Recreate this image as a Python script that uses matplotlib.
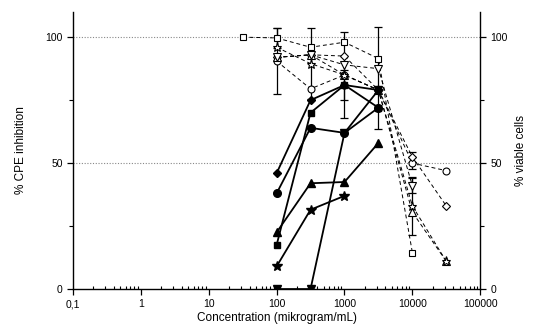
import matplotlib

matplotlib.use("Agg")
import matplotlib.pyplot as plt
import numpy as np
from matplotlib.ticker import FixedLocator, FuncFormatter, LogLocator, NullFormatter

plt.rcParams["font.family"] = ["Liberation Sans", "DejaVu Sans"]

# concentrations (mikrogram/mL), half-log dilution steps
conc = [100, 316, 1000, 3160]
conc_star = [100, 316, 1000]
conc_v = [100, 316, 1000, 3160, 10000, 31600]
conc_v_square = [31.6, 100, 316, 1000, 3160, 10000]
conc_v_tri_down = [100, 316, 1000, 3160, 10000]

# % CPE inhibition (filled markers, solid lines)
cpe_diamond = [46, 75, 81, 79]
cpe_circle = [38, 64, 62, 72]
cpe_square = [17.5, 70, 81, 72]
cpe_triangle = [22.5, 42, 42.5, 58]
cpe_star = [9, 31.5, 37]
cpe_tri_down = [0, 0, 62, 79]

# % viable cells (open markers, dashed lines)
via_square = [100, 99.7, 96, 98, 91.5, 14.5]
via_circle = [90.5, 79.5, 85, 79, 50, 47]
via_diamond = [92, 93, 92.5, 79, 52.5, 33]
via_star = [96, 89.5, 85, 79, 33, 11]
via_triangle = [92, 93, 85, 79, 30.5, 11]
via_tri_down = [92, 93, 89, 87.5, 41]

# error bars (lower, upper); 0 = none drawn
via_circle_err = ([13, 0, 17, 0, 2.5, 0], [13, 0, 17, 0, 2.5, 0])
via_star_err = ([0, 14, 0, 0, 0, 0], [0, 14, 0, 0, 0, 0])
via_diamond_err = ([0, 0, 0, 0, 2, 0], [0, 0, 0, 0, 2, 0])
via_triangle_err = ([0, 0, 0, 0, 9, 0], [0, 0, 0, 0, 14, 0])
via_tri_down_err = ([0, 0, 0, 24, 3], [0, 0, 0, 16.5, 3])
via_square_err = ([0, 4, 0, 0, 0, 0], [0, 4, 0, 0, 0, 0])
cpe_square_err = ([0, 0, 6, 0], [0, 0, 6, 0])

FILLED_KW = dict(color="black", lw=1.3, mfc="black", mec="black", zorder=5)
OPEN_KW = dict(color="black", lw=0.7, ls=(0, (4, 3)), mfc="white", mec="black",
               mew=0.8, zorder=4)


def draw_err(ax, x, y, err):
    lo, hi = err
    idx = [i for i in range(len(y)) if lo[i] + hi[i] > 0]
    if not idx:
        return
    ax.errorbar([x[i] for i in idx], [y[i] for i in idx],
                yerr=[[lo[i] for i in idx], [hi[i] for i in idx]],
                fmt="none", ecolor="black", elinewidth=0.9, capsize=3,
                capthick=0.9, zorder=3)


fig = plt.figure(figsize=(5.33, 3.33), dpi=100)
ax = fig.add_axes([0.137, 0.132, 0.764, 0.832])

ax.axhline(50, color="#888888", lw=0.8, ls=(0, (1, 1.5)), zorder=1)
ax.axhline(100, color="#888888", lw=0.8, ls=(0, (1, 1.5)), zorder=1)

# viability (open, dashed)
draw_err(ax, conc_v, via_circle, via_circle_err)
draw_err(ax, conc_v, via_star, via_star_err)
draw_err(ax, conc_v, via_diamond, via_diamond_err)
draw_err(ax, conc_v, via_triangle, via_triangle_err)
draw_err(ax, conc_v_tri_down, via_tri_down, via_tri_down_err)
draw_err(ax, conc_v_square, via_square, via_square_err)
draw_err(ax, conc, cpe_square, cpe_square_err)

ax.plot(conc_v_square, via_square, marker="s", ms=4.5, **OPEN_KW)
ax.plot(conc_v, via_circle, marker="o", ms=5, **OPEN_KW)
ax.plot(conc_v, via_diamond, marker="D", ms=4.5, **OPEN_KW)
ax.plot(conc_v, via_triangle, marker="^", ms=5.5, **OPEN_KW)
ax.plot(conc_v_tri_down, via_tri_down, marker="v", ms=5.5, **OPEN_KW)
ax.plot(conc_v, via_star, marker="*", ms=6.5, **OPEN_KW)

# CPE inhibition (filled, solid)
ax.plot(conc, cpe_diamond, marker="D", ms=4.5, **FILLED_KW)
ax.plot(conc, cpe_circle, marker="o", ms=5.5, **FILLED_KW)
ax.plot(conc, cpe_square, marker="s", ms=5, **FILLED_KW)
ax.plot(conc, cpe_triangle, marker="^", ms=6, **FILLED_KW)
ax.plot(conc_star, cpe_star, marker="*", ms=7.5, **FILLED_KW)
ax.plot(conc, cpe_tri_down, marker="v", ms=6, **FILLED_KW)

ax.set_xscale("log")
ax.set_xlim(0.1, 100000)
ax.set_ylim(0, 110)

ax.xaxis.set_major_locator(FixedLocator([0.1, 1, 10, 100, 1000, 10000, 100000]))
ax.xaxis.set_major_formatter(FuncFormatter(lambda v, p: ("%g" % v).replace(".", ",")))
ax.xaxis.set_minor_locator(LogLocator(base=10, subs=np.arange(2, 10), numticks=20))
ax.xaxis.set_minor_formatter(NullFormatter())

ax.set_yticks([0, 50, 100])
ax.set_yticks([25, 75], minor=True)

ax.spines["top"].set_visible(False)
for s in ("left", "right", "bottom"):
    ax.spines[s].set_linewidth(1.0)

ax.tick_params(axis="both", which="major", labelsize=7.5, length=4, width=0.9,
               direction="out", colors="black")
ax.tick_params(axis="x", which="minor", length=2.5, width=0.8, direction="in")
ax.tick_params(axis="y", which="minor", length=3, width=0.8, direction="out")
ax.tick_params(axis="y", which="both", right=True, labelright=True)

ax.set_xlabel("Concentration (mikrogram/mL)", fontsize=8.5, labelpad=2)
ax.set_ylabel("% CPE inhibition", fontsize=8.5, labelpad=13)
fig.text(0.978, 0.548, "% viable cells", rotation=90, fontsize=8.5,
         ha="center", va="center")

fig.savefig("out.png", dpi=100)
plt.close(fig)
